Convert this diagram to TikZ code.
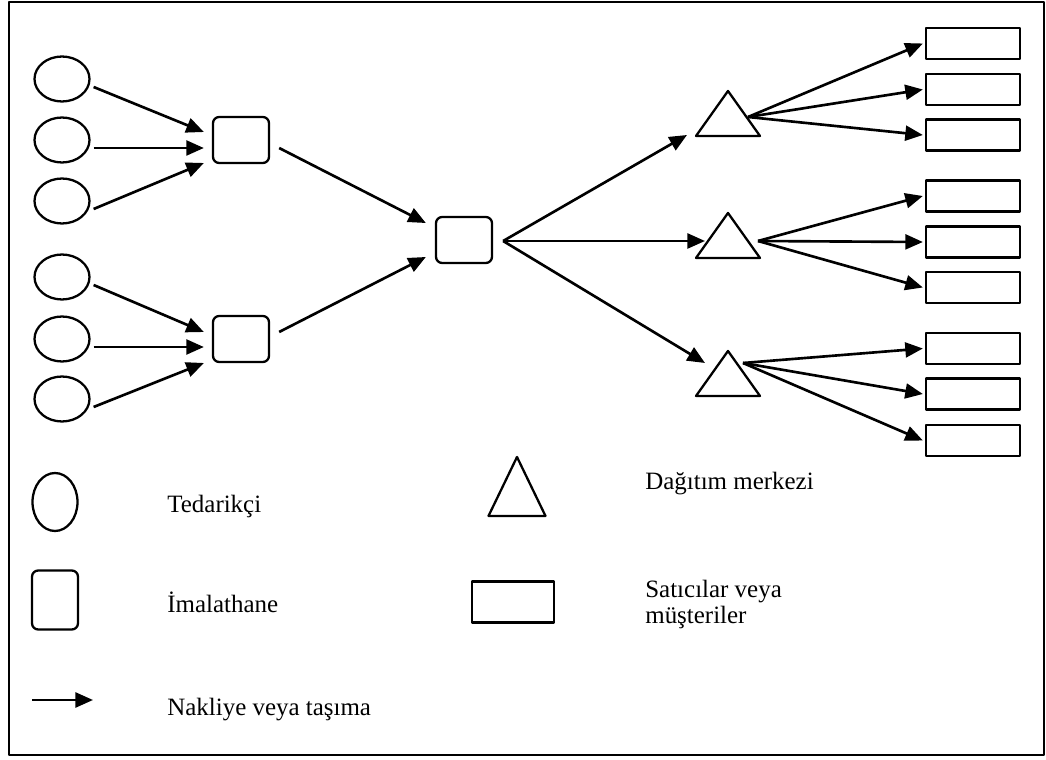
\documentclass[tikz,border=0pt]{standalone}
\usepackage{fontspec}
\setmainfont{Liberation Serif}
\usetikzlibrary{arrows.meta,calc,shapes.geometric}

\begin{document}
\begin{tikzpicture}[x=0.02cm, y=-0.02cm, line join=round,
    supplier/.style={draw, ellipse, line width=1.3pt, inner sep=0pt, minimum width=1.1cm, minimum height=0.9cm},
    plant/.style={draw, rounded corners=3.5pt, line width=1.3pt, inner sep=0pt, minimum width=1.12cm, minimum height=0.92cm},
    dc/.style={draw, isosceles triangle, isosceles triangle stretches, shape border rotate=90, line width=1.3pt, inner sep=0pt, minimum width=1.28cm, minimum height=0.9cm, anchor=apex},
    shop/.style={draw, rectangle, line width=1.3pt, inner sep=0pt, minimum width=1.88cm, minimum height=0.62cm},
    flow/.style={line width=1.5pt, -{Triangle[length=10pt,width=8.5pt]}},
    legend/.style={anchor=base west, font=\fontsize{14.2}{14.7}\selectfont, align=left, inner sep=0pt}]
    \useasboundingbox (0,0) rectangle (1046,760);
    \draw[line width=0.9pt] (9,2) rectangle (1044,755);

    % suppliers
    \node[supplier] (s1) at (62,79) {};
    \node[supplier] (s2) at (62,140) {};
    \node[supplier] (s3) at (62,201) {};
    \node[supplier] (s4) at (62,277) {};
    \node[supplier] (s5) at (62,339) {};
    \node[supplier] (s6) at (62,399) {};

    % plants and central store
    \node[plant] (m1) at (241,140) {};
    \node[plant] (m2) at (241,339) {};
    \node[plant] (c) at (464,240) {};

    % distribution centres
    \node[dc] (d1) at (728,88) {};
    \node[dc] (d2) at (728,210) {};
    \node[dc] (d3) at (728,348) {};

    % retailers
    \foreach \y [count=\i] in {43.5,89.5,135,196,242,287.5,348.5,394,440.5}
        \node[shop] (r\i) at (973,\y) {};

    % flows
    \foreach \s/\m/\dy in {1/1/-8,2/1/8,3/1/23,4/2/-7,5/2/8,6/2/24}
        \draw[flow] ($(s\s.east)+(3,8)$) -- ($(m\m.west)+(-8,\dy)$);
    \draw[flow] ($(m1.east)+(9,8)$) -- ($(c.west)+(-9,-17)$);
    \draw[flow] ($(m2.east)+(9,-7)$) -- ($(c.west)+(-9,17)$);
    \draw[flow] ($(c.east)+(10,1)$) -- ($(d1.apex)+(-41,47)$);
    \draw[flow] ($(c.east)+(10,1)$) -- ($(d2.apex)+(-23,31)$);
    \draw[flow] ($(c.east)+(10,1)$) -- ($(d3.apex)+(-23,15)$);
    \foreach \r in {1,2,3}
        \draw[flow] ($(d1.apex)+(20,29)$) -- ($(r\r.west)+(-2,0)$);
    \foreach \r in {4,5,6}
        \draw[flow] ($(d2.apex)+(30,31)$) -- ($(r\r.west)+(-2,0)$);
    \foreach \r in {7,8,9}
        \draw[flow] ($(d3.apex)+(15,15)$) -- ($(r\r.west)+(-2,0)$);

    % legend
    \node[supplier, minimum width=0.9cm, minimum height=1.16cm] (ls) at (55,502) {};
    \node[legend] (lst) at (167,513) {Tedarikçi};
    \node[plant, minimum width=0.92cm, minimum height=1.18cm] (lm) at (55,600) {};
    \node[legend] (lmt) at (167,613) {İmalathane};
    \coordinate (la) at (32,700);
    \coordinate (lb) at (93,700);
    \draw[flow] (la) -- (lb);
    \node[legend] (lat) at (167,715) {Nakliye veya taşıma};
    \node[dc, minimum width=1.14cm, minimum height=1.18cm] (ld) at (517,454) {};
    \node[legend] (ldt) at (645,490) {Dağıtım merkezi};
    \node[shop, minimum width=1.64cm, minimum height=0.82cm] (lr) at (513,602) {};
    \node[legend] (lrt) at (645,623) {Satıcılar veya\\müşteriler};
\end{tikzpicture}
\end{document}
